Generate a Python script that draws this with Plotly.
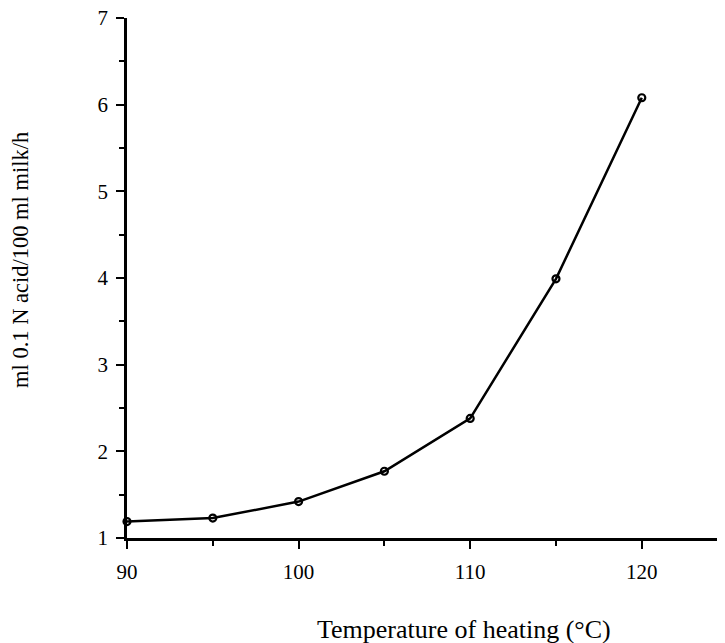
import plotly.graph_objects as go

temperature = [90, 95, 100, 105, 110, 115, 120]
acid = [1.19, 1.23, 1.42, 1.77, 2.38, 3.99, 6.08]

x_ticks = [90, 100, 110, 120]
y_ticks = [1, 2, 3, 4, 5, 6, 7]

x_title = "Temperature of heating (°C)"
y_title = "ml 0.1 N acid/100 ml milk/h"

FONT = "Liberation Serif"

# page body has an 8px margin; figure coordinates are page coordinates minus 8
OFF = 8
L, T, B_PAGE = 127 - OFF, 18 - OFF, 538 - OFF
W, H = 725 - OFF, 643 - OFF
PW, PH = W - L, B_PAGE - T

fig = go.Figure()
fig.add_trace(go.Scatter(
    x=temperature, y=acid, mode="lines+markers",
    line=dict(color="black", width=2.5),
    marker=dict(symbol="circle-open", size=7, color="black", line=dict(width=2.2, color="black")),
    cliponaxis=False, showlegend=False,
))

fig.update_layout(
    width=W, height=H,
    margin=dict(l=L, r=0, t=T, b=H - B_PAGE, autoexpand=False),
    paper_bgcolor="white", plot_bgcolor="white",
    font=dict(family=FONT, color="black", size=21),
    xaxis=dict(
        range=[90, 124.85], tickvals=x_ticks, ticktext=[str(v) for v in x_ticks],
        showgrid=False, zeroline=False, showline=True, linecolor="black", linewidth=2.5,
        ticks="outside", ticklen=8, tickwidth=2, tickcolor="black",
        minor=dict(dtick=5, tick0=90, ticks="outside", ticklen=5, tickwidth=1.5, tickcolor="black", showgrid=False),
        tickfont=dict(family=FONT, size=21), ticklabelstandoff=5, automargin=False,
        ticklabeloverflow="allow",
    ),
    yaxis=dict(
        range=[1, 7], tickvals=y_ticks, ticktext=[str(v) for v in y_ticks],
        showgrid=False, zeroline=False, showline=True, linecolor="black", linewidth=2.5,
        ticks="outside", ticklen=8, tickwidth=2, tickcolor="black",
        minor=dict(dtick=0.5, tick0=1, ticks="outside", ticklen=5, tickwidth=1.5, tickcolor="black", showgrid=False),
        tickfont=dict(family=FONT, size=21), ticklabelstandoff=4, automargin=False,
        ticklabeloverflow="allow",
    ),
    annotations=[
        dict(text=x_title, xref="paper", yref="paper", x=(464 - 127) / PW, y=-(629 - 538) / PH,
             xanchor="center", yanchor="middle", showarrow=False, font=dict(family=FONT, size=26)),
        dict(text=y_title, xref="paper", yref="paper", x=-(127 - 20) / PW, y=(538 - 260) / PH,
             xanchor="center", yanchor="middle", textangle=-90, showarrow=False, font=dict(family=FONT, size=22.5)),
    ],
)

fig.write_html("out.html")
